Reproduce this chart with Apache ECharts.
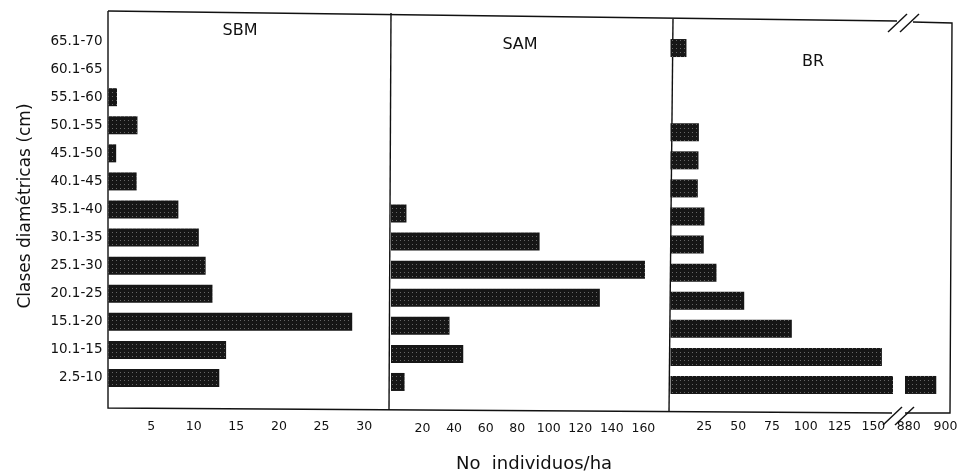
<!DOCTYPE html>
<html>
<head>
<meta charset="utf-8">
<script src="https://cdn.jsdelivr.net/npm/echarts@6/dist/echarts.min.js"></script>
<style>
  html, body { margin: 0; padding: 0; background: #fff; }
  #main { width: 961px; height: 474px; }
</style>
</head>
<body>
<div id="main"></div>
<script>
// clases diamétricas, de abajo hacia arriba
const classes = ['2.5-10', '10.1-15', '15.1-20', '20.1-25', '25.1-30', '30.1-35', '35.1-40',
  '40.1-45', '45.1-50', '50.1-55', '55.1-60', '60.1-65', '65.1-70'];
const sbmValues = [13.0, 13.8, 28.6, 12.2, 11.4, 10.6, 8.2, 3.3, 0.9, 3.4, 1.0, 0, 0];
const samValues = [8.6, 45.8, 37.1, 132.4, 161, 94.2, 9.8, 0, 0, 0, 0, 0, 0];
const brValues = [895, 156.3, 89.7, 54.5, 34, 24.6, 25.1, 20.2, 20.7, 21, 0, 0, 11.8];

const sbmTicks = [5, 10, 15, 20, 25, 30];
const samTicks = [20, 40, 60, 80, 100, 120, 140, 160];
const brTicks = [25, 50, 75, 100, 125, 150];
const brHighTicks = [880, 900];

const panelNames = ['SBM', 'SAM', 'BR'];

const myChart = echarts.init(document.getElementById('main'));

const font = 'DejaVu Sans';
const barStyle = {
  color: '#161616',
  decal: {
    symbol: 'rect',
    symbolSize: 1,
    color: 'rgba(255,255,255,0.35)',
    dashArrayX: [1, 3],
    dashArrayY: [1, 3],
    rotation: 0
  }
};

// [left, top, width, min, max, label margin]
const grids = [
  [108.5, 27, 279.5, 0, 32.8, 28],
  [391, 31, 277, 0, 175.6, 26],
  [670.5, 34, 222.5, 0, 164.5, 21],
  [905, 34, 46, 878, 903, 21]
];
const tickSets = [sbmTicks, samTicks, brTicks, brHighTicks];

const xAxes = grids.map((g, i) => ({
  gridIndex: i,
  type: 'value',
  min: g[3],
  max: g[4],
  axisLine: { show: false },
  axisTick: { show: false },
  splitLine: { show: false },
  axisLabel: {
    customValues: tickSets[i],
    margin: g[5],
    fontFamily: font,
    fontSize: 12.5,
    color: '#111'
  }
}));

const yAxes = grids.map((g, i) => ({
  gridIndex: i,
  type: 'category',
  data: classes,
  axisLine: { show: false },
  axisTick: { show: false },
  axisLabel: {
    show: i === 0,
    margin: 6,
    fontFamily: font,
    fontSize: 13.5,
    color: '#111'
  }
}));

const panelData = [
  sbmValues,
  samValues,
  brValues,
  brValues.map(v => (v > grids[3][3] ? v : '-'))
];

const series = panelData.map((d, i) => ({
  type: 'bar',
  xAxisIndex: i,
  yAxisIndex: i,
  data: d,
  barWidth: 18,
  clip: true,
  silent: true,
  itemStyle: barStyle
}));

const line = (pts) => ({
  type: 'polyline',
  shape: { points: pts },
  style: { stroke: '#111', lineWidth: 1.4, fill: null },
  silent: true
});
const label = (text, x, y, size, rot) => ({
  type: 'text',
  x: x,
  y: y,
  rotation: rot || 0,
  style: {
    text: text,
    fontFamily: font,
    fontSize: size,
    fill: '#111',
    align: 'center',
    verticalAlign: 'middle'
  },
  silent: true
});

myChart.setOption({
  animation: false,
  backgroundColor: '#fff',
  grid: grids.map(g => ({ left: g[0], top: g[1], width: g[2], height: 365 })),
  xAxis: xAxes,
  yAxis: yAxes,
  series: series,
  graphic: [
    // marco
    line([[108, 11], [897, 21]]),
    line([[913, 22], [952, 23], [950, 413], [905, 413]]),
    line([[892, 413], [108, 408], [108, 11]]),
    line([[391, 13], [389, 410]]),
    line([[673, 19], [669, 412]]),
    // corte del eje
    line([[888, 32], [907, 14]]),
    line([[900, 32], [919, 14]]),
    line([[883, 425], [902, 407]]),
    line([[895, 425], [914, 407]]),
    label(panelNames[0], 240, 31, 16),
    label(panelNames[1], 520, 45, 16),
    label(panelNames[2], 813, 62, 16),
    label('No  individuos/ha', 534, 464, 18),
    label('Clases diamétricas (cm)', 26, 206, 17, Math.PI / 2)
  ]
});
</script>
</body>
</html>
